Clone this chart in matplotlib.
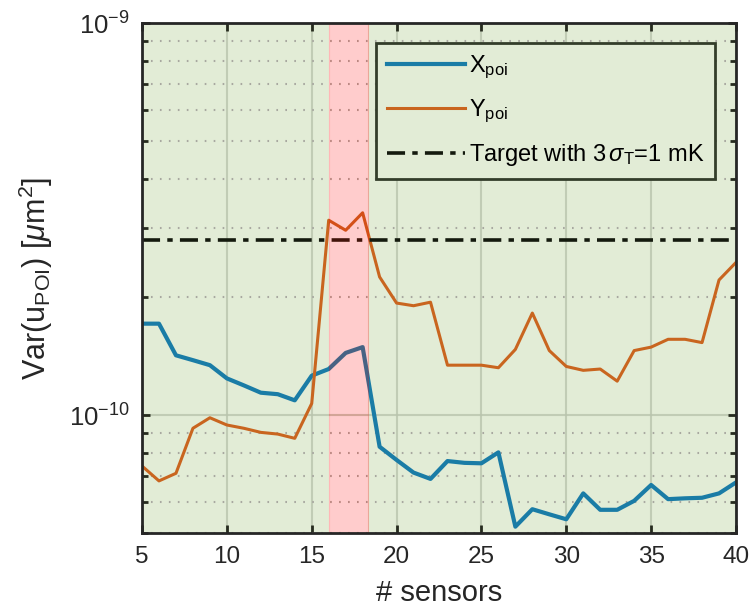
import numpy as np
import matplotlib
matplotlib.use('Agg')
import matplotlib.pyplot as plt
from matplotlib.ticker import FixedLocator, LogFormatterSciNotation, NullFormatter, MultipleLocator

plt.rcParams['font.family'] = ['Liberation Sans', 'DejaVu Sans']
plt.rcParams['mathtext.fontset'] = 'custom'
plt.rcParams['mathtext.rm'] = 'Liberation Sans'
plt.rcParams['mathtext.it'] = 'Liberation Sans:italic'
plt.rcParams['mathtext.bf'] = 'Liberation Sans:bold'

# number of sensors
n_sensors = np.arange(5, 41)

# variance of POI displacement, x direction
var_x = [1.71e-10, 1.71e-10, 1.42e-10, 1.38e-10, 1.34e-10, 1.24e-10, 1.19e-10, 1.14e-10,
         1.13e-10, 1.09e-10, 1.26e-10, 1.31e-10, 1.44e-10, 1.49e-10, 8.3e-11, 7.68e-11,
         7.13e-11, 6.87e-11, 7.63e-11, 7.55e-11, 7.53e-11, 8.03e-11, 5.19e-11, 5.75e-11,
         5.58e-11, 5.42e-11, 6.31e-11, 5.73e-11, 5.73e-11, 6.04e-11, 6.63e-11, 6.1e-11,
         6.13e-11, 6.15e-11, 6.31e-11, 6.73e-11]

# variance of POI displacement, y direction
var_y = [7.41e-11, 6.79e-11, 7.1e-11, 9.25e-11, 9.84e-11, 9.43e-11, 9.25e-11, 9.03e-11,
         8.94e-11, 8.72e-11, 1.07e-10, 3.14e-10, 2.96e-10, 3.28e-10, 2.25e-10, 1.93e-10,
         1.90e-10, 1.94e-10, 1.34e-10, 1.34e-10, 1.34e-10, 1.32e-10, 1.47e-10, 1.82e-10,
         1.46e-10, 1.33e-10, 1.30e-10, 1.31e-10, 1.22e-10, 1.46e-10, 1.49e-10, 1.56e-10,
         1.56e-10, 1.53e-10, 2.21e-10, 2.45e-10]

target = 2.80e-10
bad_range = (16, 18.3)

y_major = [1e-10, 1e-9]
y_minor = [m * 1e-11 for m in range(5, 10)] + [m * 1e-10 for m in range(2, 10)]

green = '#e2ecd6'

fig = plt.figure(figsize=(7.53, 6.07), dpi=100)
ax = fig.add_axes([0.1886, 0.1219, 0.7888, 0.8402])
ax.set_facecolor('white')

ax.axvspan(5, bad_range[0], color=green, lw=0, zorder=0)
ax.axvspan(bad_range[1], 40, color=green, lw=0, zorder=0)

ax.plot(n_sensors, var_x, color='#1a7ca6', lw=3, label='X$_{\\mathrm{poi}}$', zorder=3)
ax.plot(n_sensors, var_y, color='#c9651f', lw=2.2, label='Y$_{\\mathrm{poi}}$', zorder=3)
ax.axhline(target, color='#141a0e', lw=2.6, ls=(0, (5, 2, 1.5, 2)),
           label='Target with 3$\\,\\sigma_{\\mathrm{T}}$=1 mK', zorder=3)

ax.axvspan(bad_range[0], bad_range[1], color='red', alpha=0.2, lw=0.8, zorder=4)

ax.set_yscale('log')
ax.set_xlim(5, 40)
ax.set_ylim(5e-11, 1e-9)
ax.xaxis.set_major_locator(MultipleLocator(5))
ax.yaxis.set_major_locator(FixedLocator(y_major))
ax.yaxis.set_major_formatter(LogFormatterSciNotation())
ax.yaxis.set_minor_locator(FixedLocator(y_minor))
ax.yaxis.set_minor_formatter(NullFormatter())

ax.grid(True, which='major', color='#b9c4ad', lw=1.5, alpha=0.8, zorder=1)
ax.grid(True, which='minor', axis='y', color='#a8a8a0', lw=1.5, ls=(0, (0.8, 3.5)), zorder=1)
ax.set_axisbelow(True)

ax.tick_params(which='both', direction='in', top=True, right=True, width=2,
               color='#262b1e', labelsize=17.5, labelcolor='#262626')
ax.tick_params(axis='y', which='major', labelsize=18.5)
ax.tick_params(which='major', length=6, pad=9)
ax.tick_params(which='minor', length=4)
for s in ax.spines.values():
    s.set_linewidth(2)
    s.set_color('#262626')
    s.set_zorder(5)

ax.set_xlabel('# sensors', fontsize=21, color='#262626', labelpad=8)
ax.set_ylabel('Var(u$_{\\mathrm{POI}}$) [$\\mu$m$^2$]', fontsize=22, color='#262626', labelpad=10)

leg = ax.legend(loc='upper left', bbox_to_anchor=(0.394, 0.692, 0.571, 0.269), mode='expand',
                fontsize=17, fancybox=False, facecolor=green, framealpha=1,
                edgecolor='#333d2a', handlelength=3.3, handletextpad=0.2,
                labelspacing=0.72, borderaxespad=0, borderpad=0.45)
leg.get_frame().set_linewidth(2)
leg.set_zorder(6)

plt.savefig('out.png', dpi=100)
